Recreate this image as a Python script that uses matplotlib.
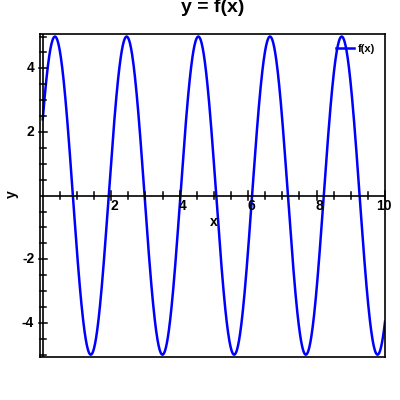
import numpy as np
import matplotlib
matplotlib.use("Agg")
import matplotlib.pyplot as plt

plt.rcParams['font.family'] = ['Liberation Sans', 'DejaVu Sans']

# curve: y = A*sin(w*x + phase)
amplitude = 5.0
omega = 3.0
phase = 0.5
x_range = (0.0, 10.0)
x_ticks = [2, 4, 6, 8, 10]
y_ticks = [-4, -2, 2, 4]

x = np.linspace(x_range[0], x_range[1], 1000)
y = amplitude * np.sin(omega * x + phase)

fig = plt.figure(figsize=(4, 4), dpi=100)
ax = fig.add_axes([0.10, 0.107, 0.8625, 0.808])

ax.plot(x, y, color="#0000ff", linewidth=1.8, label="f(x)")
ax.set_xlim(-0.08, 10.0)
ax.set_ylim(-5.08, 5.08)

# axes through the origin, box kept as a frame
ax.axhline(0, color="black", linewidth=1.2)
ax.axvline(0, color="black", linewidth=1.2)
for s in ax.spines.values():
    s.set_linewidth(1.2)

ax.set_xticks([])
ax.set_yticks([])
# tick marks crossing the axis lines
for v in np.arange(0.5, 10.01, 0.5):
    h = 0.13 if v % 2 == 0 else 0.1
    ax.plot([v, v], [-h, h], color="black", linewidth=1.1, clip_on=False)
for v in np.arange(-5.0, 5.01, 0.5):
    if v == 0:
        continue
    h = 0.12 if v % 2 == 0 else 0.085
    ax.plot([-h, h], [v, v], color="black", linewidth=1.1, clip_on=False)

for t in x_ticks:
    ax.text(t - 0.02, -0.1, str(t), ha="left" if t < 10 else "center", va="top",
            fontsize=10, fontweight="bold")
for t in y_ticks:
    ax.text(-0.25, t, str(t), ha="right", va="center", fontsize=10, fontweight="bold")

ax.text(5.0, -0.6, "x", ha="center", va="top", fontsize=10, fontweight="bold")
fig.text(0.03, 0.515, "y", rotation=90, ha="center", va="center", fontsize=10, fontweight="bold")

ax.set_title("y = f(x)", fontsize=14, fontweight="bold", pad=16)

leg = ax.legend(loc="upper right", frameon=False, handlelength=1.7,
                handletextpad=0.3, borderaxespad=0.5, prop={"weight": "bold", "size": 8})

fig.savefig("out.png", dpi=100)
